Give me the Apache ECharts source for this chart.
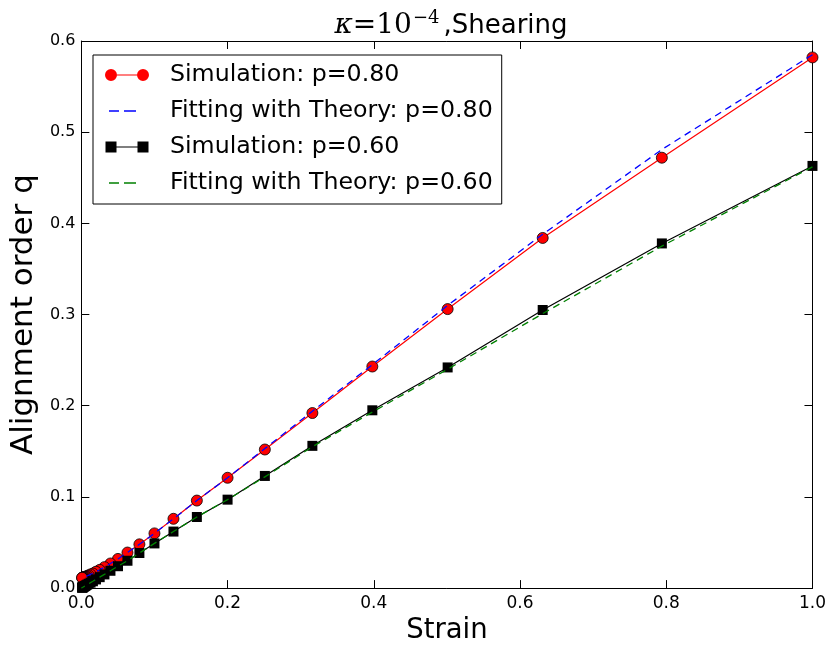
<!DOCTYPE html>
<html>
<head>
<meta charset="utf-8">
<script src="https://cdn.jsdelivr.net/npm/echarts@6/dist/echarts.min.js"></script>
<style>html,body{margin:0;padding:0;background:#fff}#c{width:829px;height:650px}</style>
</head>
<body>
<div id="c"></div>
<script>
// Strain values (log-spaced)
var strain = [1.0, 0.794, 0.631, 0.501, 0.398, 0.316, 0.251, 0.2, 0.158, 0.126, 0.1, 0.0794, 0.0631, 0.0501, 0.0398, 0.0316, 0.0251, 0.02, 0.0158, 0.0126, 0.01, 0.00794, 0.00631, 0.00501, 0.00398, 0.00316, 0.00251, 0.002, 0.00158, 0.00126, 0.001];
// Simulation p=0.80
var simP80 = [0.582, 0.472, 0.384, 0.306, 0.243, 0.192, 0.152, 0.121, 0.096, 0.076, 0.060, 0.048, 0.039, 0.032, 0.027, 0.023, 0.020, 0.018, 0.016, 0.015, 0.014, 0.0133, 0.0127, 0.0123, 0.0120, 0.0118, 0.0116, 0.0115, 0.0114, 0.0113, 0.0113];
// Theory fit p=0.80
var fitP80 = [0.585, 0.481, 0.388, 0.310, 0.245, 0.194, 0.153, 0.121, 0.096, 0.076, 0.060, 0.048, 0.039, 0.032, 0.027, 0.023, 0.020, 0.018, 0.016, 0.015, 0.014, 0.0133, 0.0127, 0.0123, 0.0120, 0.0118, 0.0116, 0.0115, 0.0114, 0.0113, 0.0113];
// Simulation p=0.60
var simP60 = [0.463, 0.378, 0.305, 0.242, 0.195, 0.156, 0.123, 0.097, 0.078, 0.062, 0.049, 0.0385, 0.030, 0.024, 0.019, 0.015, 0.012, 0.0095, 0.0075, 0.006, 0.0048, 0.0038, 0.003, 0.0024, 0.0019, 0.0015, 0.0012, 0.0009, 0.0007, 0.0006, 0.0005];
// Theory fit p=0.60 (ends at origin)
var fitP60 = [0.462, 0.375, 0.301, 0.240, 0.193, 0.155, 0.122, 0.097, 0.078, 0.062, 0.049, 0.0385, 0.030, 0.024, 0.019, 0.015, 0.012, 0.0095, 0.0075, 0.006, 0.0048, 0.0038, 0.003, 0.0024, 0.0019, 0.0015, 0.0012, 0.0009, 0.0007, 0.0006, 0.0005];
var seriesNames = ['Simulation: p=0.80', 'Fitting with Theory: p=0.80', 'Simulation: p=0.60', 'Fitting with Theory: p=0.60'];
var xTicks = [0, 0.2, 0.4, 0.6, 0.8, 1.0];
var yTicks = [0, 0.1, 0.2, 0.3, 0.4, 0.5, 0.6];

function pairs(ys) { return strain.map(function (x, i) { return [x, ys[i]]; }); }

var FONT = 'DejaVu Sans';
var iconCircles = 'path://M0,0M60,12M0,6a6,6 0 1,0 12,0a6,6 0 1,0 -12,0zM32,6a6,6 0 1,0 12,0a6,6 0 1,0 -12,0zM12,5.4h20v1.2h-20z';
var iconSquares = 'path://M0,0M60,12M0.5,0.5h11v11h-11zM32.5,0.5h11v11h-11zM11,5.4h22v1.2h-22z';
var iconDash = 'path://M0,0M60,12M4,5.2h10v1.6h-10zM19,5.2h12v1.6h-12z';

function axisCommon(extra) {
  var base = {
    type: 'value',
    axisLine: { show: true, onZero: false, lineStyle: { color: '#000', width: 1 } },
    axisTick: { show: true, inside: true, length: 8, lineStyle: { color: '#000', width: 1 } },
    splitLine: { show: false }
  };
  for (var k in extra) base[k] = extra[k];
  return base;
}

var chart = echarts.init(document.getElementById('c'), null, { renderer: 'canvas' });
chart.setOption({
  animation: false,
  backgroundColor: '#fff',
  title: {
    text: '{k|κ}{m|=10}{s|−4}{t|,Shearing}',
    left: 446, top: 4, textAlign: 'center',
    textStyle: {
      fontWeight: 'normal',
      rich: {
        k: { fontFamily: 'DejaVu Serif', fontStyle: 'italic', fontWeight: 'normal', fontSize: 28, color: '#000' },
        m: { fontFamily: 'DejaVu Serif', fontWeight: 'normal', fontSize: 28, color: '#000' },
        s: { fontFamily: 'DejaVu Serif', fontWeight: 'normal', fontSize: 18, color: '#000', padding: [0, 4, 16, 1] },
        t: { fontFamily: FONT, fontWeight: 'normal', fontSize: 26, color: '#000' }
      }
    }
  },
  grid: { left: 78, right: 15, top: 41, bottom: 57, containLabel: false },
  legend: {
    orient: 'vertical',
    left: 93, top: 55,
    padding: [8, 9, 9, 12],
    itemWidth: 60, itemHeight: 12, itemGap: 12,
    borderColor: '#000', borderWidth: 1, borderRadius: 0,
    backgroundColor: '#fff',
    textStyle: { fontFamily: FONT, fontSize: 23.7, color: '#000', lineHeight: 24 },
    data: [
      { name: seriesNames[0], icon: iconCircles, itemStyle: { borderWidth: 0 } },
      { name: seriesNames[1], icon: iconDash, itemStyle: { borderWidth: 0 } },
      { name: seriesNames[2], icon: iconSquares, itemStyle: { borderWidth: 0 } },
      { name: seriesNames[3], icon: iconDash, itemStyle: { borderWidth: 0 } }
    ]
  },
  xAxis: [
    axisCommon({
      min: xTicks[0], max: xTicks[xTicks.length - 1], interval: 0.2, position: 'bottom',
      name: 'Strain', nameLocation: 'middle', nameGap: 26,
      nameTextStyle: { fontFamily: FONT, fontSize: 27.5, color: '#000' },
      axisLabel: { show: true, margin: 7, fontFamily: FONT, fontSize: 17, color: '#000',
        formatter: function (v) { return v.toFixed(1); } }
    }),
    axisCommon({
      min: xTicks[0], max: xTicks[xTicks.length - 1], interval: 0.2, position: 'top',
      axisLabel: { show: false }
    })
  ],
  yAxis: [
    axisCommon({
      min: yTicks[0], max: yTicks[yTicks.length - 1], interval: 0.1, position: 'left',
      name: 'Alignment order q', nameLocation: 'middle', nameGap: 29,
      nameTextStyle: { fontFamily: FONT, fontSize: 31, color: '#000' },
      axisLabel: { show: true, margin: 6, fontFamily: FONT, fontSize: 16, color: '#000',
        formatter: function (v) { return v.toFixed(1); } }
    }),
    axisCommon({
      min: yTicks[0], max: yTicks[yTicks.length - 1], interval: 0.1, position: 'right',
      axisLabel: { show: false }
    })
  ],
  series: [
    {
      name: seriesNames[0], type: 'line', data: pairs(simP80),
      color: '#ff0000',
      symbol: 'circle', symbolSize: 11, showAllSymbol: true,
      lineStyle: { color: '#ff0000', width: 1.2 },
      itemStyle: { color: '#ff0000', borderColor: '#000', borderWidth: 0.8 },
      z: 2
    },
    {
      name: seriesNames[1], type: 'line', data: pairs(fitP80),
      color: '#0000ff',
      symbol: 'none', showSymbol: false,
      lineStyle: { color: '#0000ff', width: 1.3, type: [7, 5] },
      itemStyle: { color: '#0000ff' },
      z: 3
    },
    {
      name: seriesNames[2], type: 'line', data: pairs(simP60),
      color: '#000000',
      symbol: 'rect', symbolSize: 10, showAllSymbol: true,
      lineStyle: { color: '#000', width: 1.2 },
      itemStyle: { color: '#000' },
      z: 4
    },
    {
      name: seriesNames[3], type: 'line', data: pairs(fitP60).concat([[0, 0]]),
      color: '#008000',
      symbol: 'none', showSymbol: false,
      lineStyle: { color: '#008000', width: 1.3, type: [7, 5] },
      itemStyle: { color: '#008000' },
      z: 5
    }
  ]
});
</script>
</body>
</html>
